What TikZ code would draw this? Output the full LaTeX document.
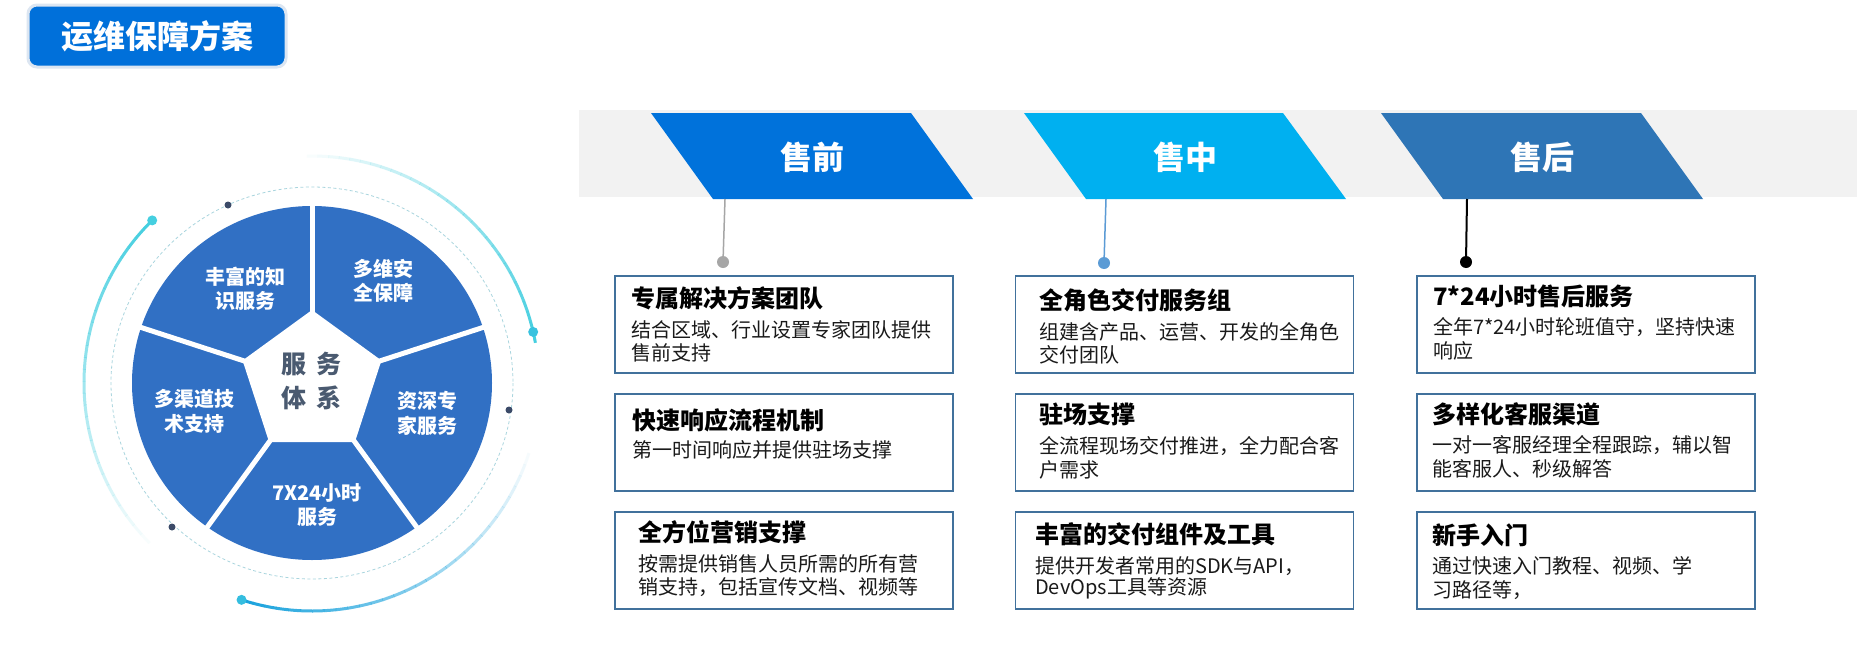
\documentclass[tikz,border=0pt]{standalone}
\usepackage{fontspec}
\setmainfont{Noto Sans CJK SC}
\usetikzlibrary{calc}
\definecolor{titleblue}{HTML}{0070DA}
\definecolor{titleedge}{HTML}{DCE6F2}
\definecolor{wheelblue}{HTML}{3170C4}
\definecolor{pblue1}{HTML}{0072DB}
\definecolor{pblue2}{HTML}{00B0F0}
\definecolor{pblue3}{HTML}{2E75B6}
\definecolor{bandgray}{HTML}{F2F2F2}
\definecolor{boxborder}{HTML}{41719C}
\definecolor{centertext}{HTML}{4A5A70}
\definecolor{arccyan}{HTML}{45CFE0}
\definecolor{arcblue}{HTML}{1BA3DD}
\definecolor{dashcol}{HTML}{A9D5DE}
\definecolor{darkdot}{HTML}{3B4A68}
\definecolor{bodytext}{HTML}{1A1A1A}
\definecolor{dotgray}{HTML}{A6A6A6}
\definecolor{dotblue}{HTML}{5B9BD5}
\begin{document}
\begin{tikzpicture}[x=1pt,y=-1pt,
  ttl/.style={anchor=west, inner sep=0pt, font=\fontsize{24}{24}\selectfont\bfseries, text=black},
  bdy/.style={anchor=west, inner sep=0pt, font=\fontsize{20}{20}\selectfont, text=bodytext},
  infobox/.style={draw=boxborder, line width=1.5pt, inner sep=0pt, minimum width=338pt, minimum height=97pt},
  wlabel/.style={text=white, align=center, inner sep=0pt, font=\fontsize{20}{24.5}\selectfont\bfseries},
  phase/.style={text=white, inner sep=0pt, font=\fontsize{32}{32}\selectfont\bfseries},
  pin/.style={circle, inner sep=0pt, minimum size=12pt},
  smalldot/.style={circle, inner sep=0pt, minimum size=7pt, fill=darkdot},
  cyandot/.style={circle, inner sep=0pt, minimum size=10pt},
]
\useasboundingbox (0,0) rectangle (1874,664);
\fill[white] (0,0) rectangle (1874,664);

% title
\node[fill=titleblue, draw=titleedge, line width=3pt, rounded corners=9pt,
      minimum width=258pt, minimum height=62pt, inner sep=0pt, text=white,
      font=\fontsize{32}{32}\selectfont\bfseries] (title) at (157,36) {运维保障方案};

% wheel
\coordinate (W) at (312,383);
\draw[dashcol, line width=0.8pt, dash pattern=on 3pt off 2.5pt] (W) ellipse[x radius=201, y radius=196];
\fill[wheelblue] (W) ellipse[x radius=180, y radius=177];
\fill[white] ($(W)+(-90:73)$) -- ($(W)+(-162:73)$) -- ($(W)+(-234:73)$)
   -- ($(W)+(-306:73)$) -- ($(W)+(-18:73)$) -- cycle;
\foreach \a in {90,162,234,306,18}
  \draw[white, line width=5pt] ($(W)+(-\a:68)$) -- ($(W)+(-\a:184)$);

% fading arcs
\foreach \i in {0,...,29}{
  \pgfmathsetmacro\op{1-\i/30}
  \draw[arccyan, line width=3pt, opacity=\op] ($(W)+({-(134.5+\i*3.0)}:228)$) arc[start angle={-(134.5+\i*3.0)}, delta angle=-3.1, radius=228];
  \draw[arccyan, line width=3pt, opacity=\op] ($(W)+({-(13+\i*2.7)}:227)$) arc[start angle={-(13+\i*2.7)}, delta angle=2.8, radius=227];
}
\foreach \i in {0,...,29}{
  \pgfmathsetmacro\op{1-\i/30}
  \draw[arcblue, line width=3pt, opacity=\op] ($(W)+({-(252+\i*3.0)}:228)$) arc[start angle={-(252+\i*3.0)}, delta angle=-3.1, radius=228];
}
\node[cyandot, fill=arccyan] (ca) at ($(W)+(-134.5:228)$) {};
\node[cyandot, fill=arccyan!70!arcblue] (cb) at ($(W)+(-13:227)$) {};
\node[cyandot, fill=arccyan!60!arcblue] (cc) at ($(W)+(-252:228)$) {};
\node[smalldot] (sa) at (228,205) {};
\node[smalldot] (sb) at (509,410) {};
\node[smalldot] (sc) at (172,527) {};

\node[wlabel] (k1) at (245.5,289) {丰富的知\\识服务};
\node[wlabel] (k2) at (383,281) {多维安\\全保障};
\node[wlabel] (k3) at (194,411.5) {多渠道技\\术支持};
\node[wlabel] (k4) at (427,413.5) {资深专\\家服务};
\node[wlabel] (k5) at (317,505) {7X24小时\\服务};
\node[text=centertext, align=center, inner sep=0pt,
      font=\fontsize{25}{34}\selectfont\bfseries] (core) at (311,381) {服\hspace{10pt}务\\体\hspace{10pt}系};

% phase band
\fill[bandgray] (579,110) rectangle (1857,197);
\fill[pblue1] (651,113) -- (911,113) -- (973,199) -- (713,199) -- cycle;
\fill[pblue2] (1024,113) -- (1283,113) -- (1346,199) -- (1086,199) -- cycle;
\fill[pblue3] (1381,113) -- (1641,113) -- (1703,199) -- (1443,199) -- cycle;
\node[phase] (ph1) at (812,157) {售前};
\node[phase] (ph2) at (1185,157) {售中};
\node[phase] (ph3) at (1542,157) {售后};

% pins
\coordinate (c1) at (725,199);
\coordinate (c2) at (1106,199);
\coordinate (c3) at (1467,199);
\node[pin, fill=dotgray] (d1) at (723,262) {};
\node[pin, fill=dotblue] (d2) at (1104,263) {};
\node[pin, fill=black] (d3) at (1466,262) {};
\draw[dotgray, line width=1.5pt] (c1) -- (d1.center);
\draw[dotblue, line width=1.5pt] (c2) -- (d2.center);
\draw[black, line width=2pt] (c3) -- (d3.center);

% boxes column 1
\node[infobox] (b11) at (784,324.5) {};
\node[infobox] (b12) at (784,442.5) {};
\node[infobox] (b13) at (784,560.5) {};
\node[ttl] (t11) at (631,298) {专属解决方案团队};
\node[bdy] (t11a) at (631,330) {结合区域、行业设置专家团队提供};
\node[bdy] (t11b) at (631,353) {售前支持};
\node[ttl] (t12) at (632,420) {快速响应流程机制};
\node[bdy] (t12a) at (632,450) {第一时间响应并提供驻场支撑};
\node[ttl] (t13) at (638,532) {全方位营销支撑};
\node[bdy] (t13a) at (638,564) {按需提供销售人员所需的所有营};
\node[bdy] (t13b) at (638,587) {销支持，包括宣传文档、视频等};

% boxes column 2
\node[infobox] (b21) at (1184.5,324.5) {};
\node[infobox] (b22) at (1184.5,442.5) {};
\node[infobox] (b23) at (1184.5,560.5) {};
\node[ttl] (t21) at (1039,300) {全角色交付服务组};
\node[bdy] (t21a) at (1039,332) {组建含产品、运营、开发的全角色};
\node[bdy] (t21b) at (1039,355) {交付团队};
\node[ttl] (t22) at (1039,414) {驻场支撑};
\node[bdy] (t22a) at (1039,446) {全流程现场交付推进，全力配合客};
\node[bdy] (t22b) at (1039,470) {户需求};
\node[ttl] (t23) at (1035,534) {丰富的交付组件及工具};
\node[bdy] (t23a) at (1035,566) {提供开发者常用的SDK与API，};
\node[bdy] (t23b) at (1035,588) {DevOps工具等资源};

% boxes column 3
\node[infobox] (b31) at (1586,324.5) {};
\node[infobox] (b32) at (1586,442.5) {};
\node[infobox] (b33) at (1586,560.5) {};
\node[ttl] (t31) at (1433,296) {7*24小时售后服务};
\node[bdy] (t31a) at (1433,327) {全年7*24小时轮班值守，坚持快速};
\node[bdy] (t31b) at (1433,351) {响应};
\node[ttl] (t32) at (1432,414) {多样化客服渠道};
\node[bdy] (t32a) at (1432,445) {一对一客服经理全程跟踪，辅以智};
\node[bdy] (t32b) at (1432,469) {能客服人、秒级解答};
\node[ttl] (t33) at (1432,535) {新手入门};
\node[bdy] (t33a) at (1432,566) {通过快速入门教程、视频、学};
\node[bdy] (t33b) at (1432,590) {习路径等，};
\end{tikzpicture}
\end{document}
